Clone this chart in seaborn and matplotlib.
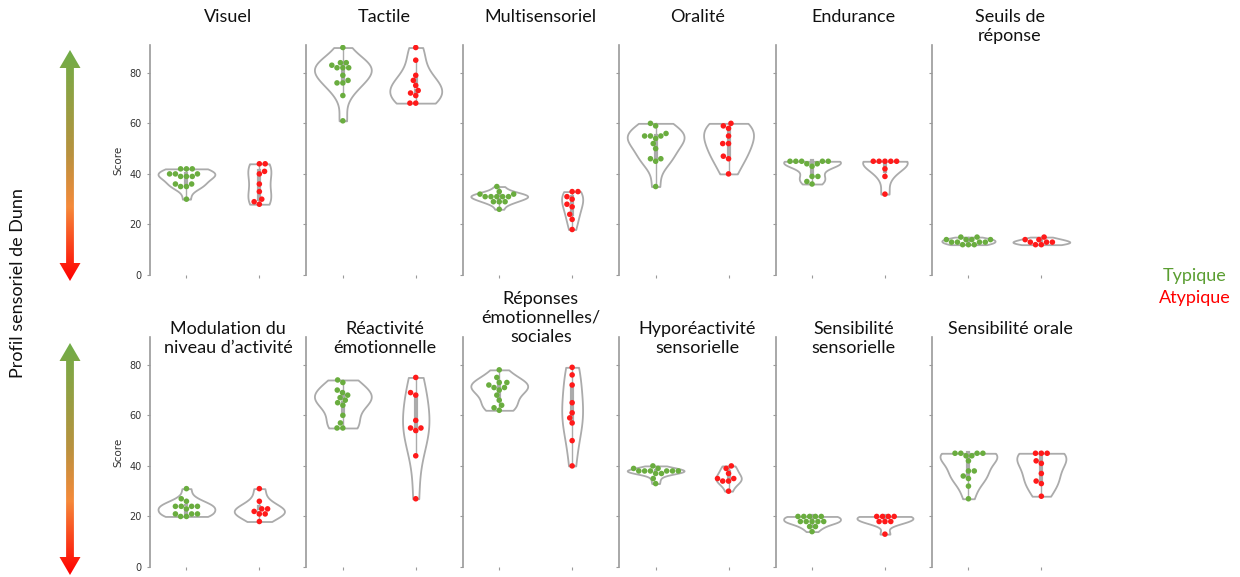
import numpy as np
import pandas as pd
import matplotlib
matplotlib.use("Agg")
import matplotlib.pyplot as plt
from matplotlib.colors import LinearSegmentedColormap
from matplotlib.patches import Polygon
import seaborn as sns

# titres des sous-domaines du profil sensoriel
domaines = ["Visuel", "Tactile", "Multisensoriel", "Oralité", "Endurance", "Seuils de\nréponse",
            "Modulation du\nniveau d’activité", "Réactivité\némotionnelle",
            "Réponses\némotionnelles/\nsociales", "Hyporéactivité\nsensorielle",
            "Sensibilité\nsensorielle", "Sensibilité orale"]
groupes = ["Typique", "Atypique"]

# scores
typique_visuel = [42, 42, 42, 40, 40, 40, 39, 39, 39, 36, 36, 35, 35, 30]
atypique_visuel = [44, 44, 41, 40, 36, 33, 30, 29, 28]
typique_tactile = [90, 84, 84, 83, 82, 82, 82, 79, 77, 76, 76, 71, 61]
atypique_tactile = [90, 85, 79, 77, 75, 73, 72, 71, 68, 68]
typique_multi = [35, 33, 32, 32, 31, 31, 31, 31, 31, 29, 29, 29, 26]
atypique_multi = [33, 33, 31, 30, 28, 27, 24, 22, 18]
typique_oralite = [60, 59, 56, 55, 55, 55, 54, 52, 50, 46, 46, 45, 35]
atypique_oralite = [60, 59, 58, 55, 52, 52, 47, 46, 40]
typique_endurance = [45, 45, 45, 45, 45, 44, 44, 43, 39, 39, 37, 36]
atypique_endurance = [45, 45, 45, 45, 45, 42, 39, 32]
typique_seuils = [15, 15, 14, 14, 14, 14, 13, 13, 13, 13, 12, 12, 12]
atypique_seuils = [15, 14, 14, 13, 13, 13, 12, 12]
typique_modulation = [31, 27, 26, 24, 24, 24, 24, 23, 21, 21, 21, 20, 20]
atypique_modulation = [31, 26, 23, 23, 22, 21, 21, 18]
typique_reactivite = [74, 73, 70, 69, 68, 67, 66, 65, 64, 60, 57, 55, 55]
atypique_reactivite = [75, 69, 68, 58, 55, 55, 54, 44, 27]
typique_reponses = [78, 75, 73, 73, 72, 71, 71, 70, 68, 66, 64, 63, 62]
atypique_reponses = [79, 76, 72, 65, 61, 59, 57, 50, 40]
typique_hypo = [40, 39, 39, 38, 38, 38, 38, 38, 38, 37, 37, 35, 33]
atypique_hypo = [40, 39, 37, 35, 35, 34, 34, 30]
typique_sensib = [20, 20, 20, 20, 20, 18, 18, 18, 18, 18, 16, 16, 14]
atypique_sensib = [20, 20, 20, 20, 18, 18, 18, 13]
typique_orale = [45, 45, 45, 45, 44, 44, 42, 38, 38, 36, 35, 32, 27]
atypique_orale = [45, 45, 45, 42, 41, 37, 34, 33, 28]

typique = [typique_visuel, typique_tactile, typique_multi, typique_oralite, typique_endurance,
           typique_seuils, typique_modulation, typique_reactivite, typique_reponses,
           typique_hypo, typique_sensib, typique_orale]
atypique = [atypique_visuel, atypique_tactile, atypique_multi, atypique_oralite, atypique_endurance,
            atypique_seuils, atypique_modulation, atypique_reactivite, atypique_reponses,
            atypique_hypo, atypique_sensib, atypique_orale]

vert = "#6aad3f"
rouge = "#ff1a1a"
couleurs = {"Typique": vert, "Atypique": rouge}
police = ["Lato", "DejaVu Sans"]

W, H = 1240, 577
fig = plt.figure(figsize=(W / 100, H / 100), dpi=100)

for i, (titre, typ, atyp) in enumerate(zip(domaines, typique, atypique)):
    row, col = divmod(i, 6)
    bas = 275 if row == 0 else 567
    ax = fig.add_axes([(150 + col * 156.4) / W, (H - bas) / H, 156 / W, 230 / H])
    df = pd.DataFrame({"groupe": ["Typique"] * len(typ) + ["Atypique"] * len(atyp),
                       "score": typ + atyp})
    sns.violinplot(data=df, x="groupe", y="score", order=groupes, color="white",
                   linecolor="#ababab", linewidth=1.3, cut=0, inner="box", width=0.78,
                   inner_kws=dict(box_width=3, whis_width=1), ax=ax)
    sns.swarmplot(data=df, x="groupe", y="score", hue="groupe", order=groupes,
                  palette=couleurs, size=4.0, legend=False, ax=ax)
    ax.set_xlim(-0.5, 1.64)
    ax.set_ylim(0, 91)
    ax.set_yticks([0, 20, 40, 60, 80])
    ax.set_xticks([0, 1])
    ax.set_xticklabels(["", ""])
    ax.set_xlabel("")
    for s in ["top", "right", "bottom"]:
        ax.spines[s].set_visible(False)
    ax.spines["left"].set_color("#9a9a9a")
    ax.spines["left"].set_linewidth(1.2)
    ax.tick_params(axis="both", length=2.5, color="#9a9a9a", labelsize=7, labelcolor="#333333")
    if col == 0:
        ax.set_ylabel("Score", fontsize=7.5, color="#333333")
    else:
        ax.set_ylabel("")
        ax.tick_params(labelleft=False)
    ax.set_facecolor("none")
    if row == 0:
        y_titre = 1.155
    else:
        y_titre = 1.2 if titre.count("\n") == 2 else 1.07
    ax.text(0.5, y_titre, titre, transform=ax.transAxes, ha="center", va="top",
            fontsize=13, family=police, linespacing=1.22, color="#111111")

# flèches en dégradé vert -> rouge
cmap = LinearSegmentedColormap.from_list("dunn", [(0, "#70ad47"), (0.45, "#b9923f"),
                                                  (0.68, "#f58a3a"), (1, "#ff0000")])
gradient = np.linspace(0, 1, 256).reshape(-1, 1)
for haut, bas in [(50, 281), (343, 575)]:
    axf = fig.add_axes([55 / W, (H - bas) / H, 30 / W, (bas - haut) / H])
    axf.set_xlim(0, 1)
    axf.set_ylim(0, 1)
    axf.axis("off")
    img = axf.imshow(gradient, cmap=cmap, extent=(0, 1, 0, 1), aspect="auto", origin="upper")
    t = 18 / (bas - haut)
    fleche = Polygon([(0.5, 1), (0.15, 1 - t), (0.37, 1 - t), (0.37, t), (0.15, t), (0.5, 0),
                      (0.85, t), (0.63, t), (0.63, 1 - t), (0.85, 1 - t)],
                     closed=True, transform=axf.transData, facecolor="none", edgecolor="none")
    axf.add_patch(fleche)
    img.set_clip_path(fleche)

fig.text(18 / W, 1 - 283 / H, "Profil sensoriel de Dunn", rotation=90, ha="center", va="center",
         fontsize=13, family=police, color="#111111")
fig.text(1195 / W, 1 - 276 / H, "Typique", ha="center", va="center", fontsize=13,
         family=police, color="#5b9e32")
fig.text(1195 / W, 1 - 298 / H, "Atypique", ha="center", va="center", fontsize=13,
         family=police, color="#ff0000")

fig.savefig("out.png", dpi=100, facecolor="white")
